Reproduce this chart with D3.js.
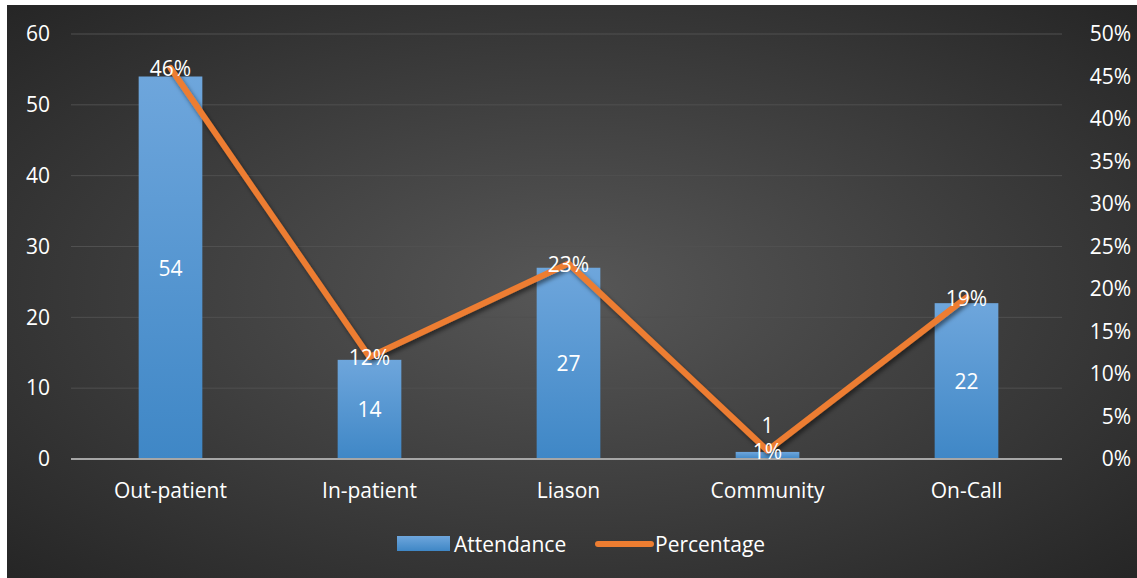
<!DOCTYPE html>
<html>
<head>
<meta charset="utf-8">
<script src="https://cdn.jsdelivr.net/npm/d3@7"></script>
<style>
  body { margin: 0; background: #fff; }
  text { font-family: "Open Sans", "Liberation Sans", sans-serif; fill: #fff; }
</style>
</head>
<body>
<div class="chart"></div>
<script>
var categories = ['Out-patient', 'In-patient', 'Liason', 'Community', 'On-Call'];
var attendance = [54, 14, 27, 1, 22];
var percentage = [0.46, 0.12, 0.23, 0.01, 0.19];
var leftTicks = [0, 10, 20, 30, 40, 50, 60];
var rightTicks = [0, 0.05, 0.1, 0.15, 0.2, 0.25, 0.3, 0.35, 0.4, 0.45, 0.5];

var width = 1137, height = 578;
var plot = {left: 71, right: 1066, top: 34, bottom: 459};
var fs = '21px';

var svg = d3.select('.chart').append('svg')
  .attr('width', width)
  .attr('height', height);

var defs = svg.append('defs');
var bg = defs.append('radialGradient').attr('id', 'bg')
  .attr('cx', '50%').attr('cy', '50%').attr('r', '70%');
bg.append('stop').attr('offset', '0%').attr('stop-color', '#575757');
bg.append('stop').attr('offset', '100%').attr('stop-color', '#262626');

var barGrad = defs.append('linearGradient').attr('id', 'barGrad')
  .attr('x1', 0).attr('y1', 0).attr('x2', 0).attr('y2', 1);
barGrad.append('stop').attr('offset', '0%').attr('stop-color', '#6ea6dc');
barGrad.append('stop').attr('offset', '100%').attr('stop-color', '#3f87c6');

var shadow = defs.append('filter').attr('id', 'shadow')
  .attr('x', '-10%').attr('y', '-10%').attr('width', '130%').attr('height', '130%');
shadow.append('feDropShadow').attr('dx', 2).attr('dy', 3).attr('stdDeviation', 2)
  .attr('flood-color', '#000').attr('flood-opacity', 0.5);

svg.append('rect')
  .attr('x', 7).attr('y', 5)
  .attr('width', width - 7).attr('height', height - 5)
  .attr('fill', 'url(#bg)');

var x = d3.scaleBand().domain(categories).range([plot.left, plot.right]).paddingInner(0.68).paddingOuter(0.34);
var y = d3.scaleLinear().domain([0, 60]).range([plot.bottom, plot.top]);
var y2 = d3.scaleLinear().domain([0, 0.5]).range([plot.bottom, plot.top]);

// gridlines
svg.append('g').selectAll('line').data(leftTicks.slice(1)).enter().append('line')
  .attr('x1', plot.left).attr('x2', plot.right - 4)
  .attr('y1', function(d) { return y(d); })
  .attr('y2', function(d) { return y(d); })
  .attr('stroke', '#505050').attr('stroke-width', 1);

// left axis
var leftAxis = svg.append('g')
  .attr('transform', 'translate(' + plot.left + ',0)')
  .call(d3.axisLeft(y).tickValues(leftTicks).tickSize(0).tickPadding(21));
leftAxis.select('.domain').remove();
leftAxis.selectAll('text').style('font-size', fs).attr('fill', '#fff')
  .style('font-family', '"Open Sans", sans-serif');

// right axis
var rightAxis = svg.append('g')
  .attr('transform', 'translate(' + (plot.right + 65) + ',0)')
  .call(d3.axisLeft(y2).tickValues(rightTicks).tickSize(0).tickPadding(0).tickFormat(d3.format('.0%')));
rightAxis.select('.domain').remove();
rightAxis.selectAll('text').style('font-size', fs).attr('fill', '#fff')
  .style('font-family', '"Open Sans", sans-serif');

// bars
svg.append('g').selectAll('rect').data(attendance).enter().append('rect')
  .attr('x', function(d, i) { return x(categories[i]); })
  .attr('y', function(d) { return y(d); })
  .attr('width', x.bandwidth())
  .attr('height', function(d) { return y(0) - y(d); })
  .attr('fill', 'url(#barGrad)');

// baseline
svg.append('line')
  .attr('x1', plot.left).attr('x2', plot.right - 4)
  .attr('y1', y(0)).attr('y2', y(0))
  .attr('stroke', '#a6a6a6').attr('stroke-width', 2);

// x labels
svg.append('g').selectAll('text').data(categories).enter().append('text')
  .attr('x', function(d) { return x(d) + x.bandwidth() / 2; })
  .attr('y', 498)
  .attr('text-anchor', 'middle')
  .style('font-size', fs)
  .text(function(d) { return d; });

// bar value labels
svg.append('g').selectAll('text').data(attendance).enter().append('text')
  .attr('x', function(d, i) { return x(categories[i]) + x.bandwidth() / 2; })
  .attr('y', function(d) { return d < 5 ? y(d) - 19 : (y(d) + y(0)) / 2 + 8; })
  .attr('text-anchor', 'middle')
  .style('font-size', fs)
  .text(function(d) { return d; });

// line
var line = d3.line()
  .x(function(d, i) { return x(categories[i]) + x.bandwidth() / 2; })
  .y(function(d) { return y2(d); });

svg.append('path')
  .datum(percentage)
  .attr('d', line)
  .attr('fill', 'none')
  .attr('stroke', '#ed7d31')
  .attr('stroke-width', 6)
  .attr('stroke-linejoin', 'round')
  .attr('stroke-linecap', 'round')
  .attr('filter', 'url(#shadow)');

// percentage labels
svg.append('g').selectAll('text').data(percentage).enter().append('text')
  .attr('x', function(d, i) { return x(categories[i]) + x.bandwidth() / 2; })
  .attr('y', function(d) { return y2(d) + 8; })
  .attr('text-anchor', 'middle')
  .style('font-size', fs)
  .text(function(d) { return d3.format('.0%')(d); });

// legend
var legend = svg.append('g');
legend.append('rect')
  .attr('x', 397).attr('y', 536).attr('width', 53).attr('height', 15)
  .attr('fill', 'url(#barGrad)');
legend.append('text').attr('x', 454).attr('y', 552).style('font-size', fs).text('Attendance');
legend.append('line')
  .attr('x1', 598).attr('x2', 651).attr('y1', 544).attr('y2', 544)
  .attr('stroke', '#ed7d31').attr('stroke-width', 6).attr('stroke-linecap', 'round');
legend.append('text').attr('x', 655).attr('y', 552).style('font-size', fs).text('Percentage');
</script>
</body>
</html>
